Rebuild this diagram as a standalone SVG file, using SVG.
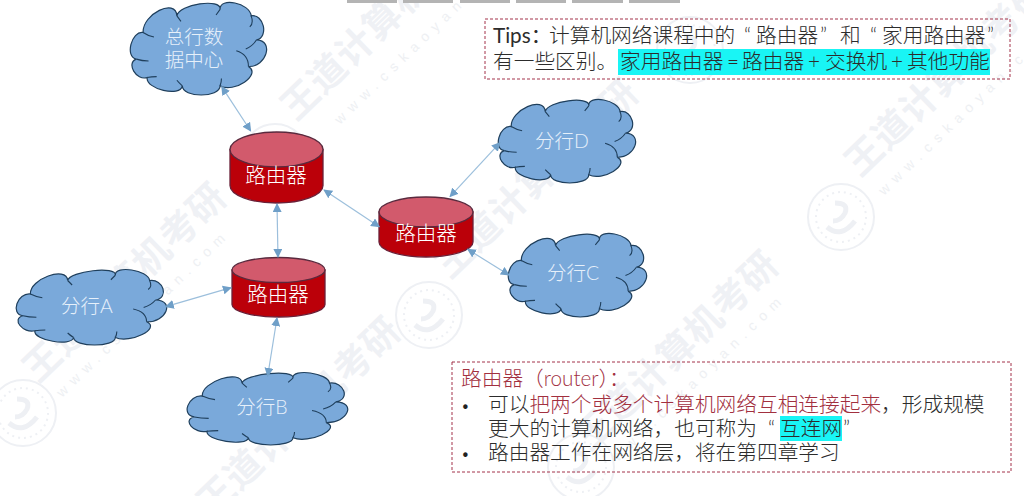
<svg xmlns="http://www.w3.org/2000/svg" width="1024" height="496" viewBox="0 0 1024 496">
<style>
text{font-family:Lato,"Noto Sans CJK SC",sans-serif}
.wm{font-family:"Noto Sans CJK SC",sans-serif;font-weight:700;font-size:37px;fill:#eff1f5;letter-spacing:1px}
.wu{font-family:"Liberation Sans",sans-serif;font-size:14px;fill:#eef0f3;letter-spacing:7px}
.ring{fill:none;stroke:#eef0f4;stroke-width:2}
.swirl{fill:none;stroke:#eef0f4;stroke-width:5}
.cloud{fill:#7aa9da;stroke:#1f3f5c;stroke-width:1.2;vector-effect:non-scaling-stroke}
.hook{fill:none;stroke:#1f3f5c;stroke-width:1.1;vector-effect:non-scaling-stroke}
.cl{fill:#e6f0fa;font-size:19.5px;text-anchor:middle;font-weight:300}
.body{fill:#bb0009;stroke:#6a2038;stroke-width:1.3}
.top{fill:#d25a6c;stroke:#5a2a3e;stroke-width:1.3}
.rt{fill:#fff;font-size:20.5px;text-anchor:middle;font-weight:300}
.conn{stroke:#9cbfdc;stroke-width:1.2;fill:none;marker-start:url(#a);marker-end:url(#a)}
.box{fill:none;stroke:#a3324a;stroke-width:1;stroke-dasharray:3 2}
.t{font-size:20.7px;fill:#2c2c2c;font-weight:300}
.r{fill:#a2303f}
.b{font-size:15px;fill:#222}
.tip{font-weight:400}
</style>
<defs>
<marker id="a" viewBox="0 0 10 10" refX="9" refY="5" markerUnits="userSpaceOnUse" markerWidth="9" markerHeight="9" orient="auto-start-reverse"><path d="M0 0L10 5L0 10z" fill="#6f9fc8"/></marker>
<g id="cloud">
<path class="cloud" d="M9 32C8.300 12 33.300 -6 34 14C35.300 1.300 67.300 -5.700 66 7C65.300 -7 88.300 0 89 14C98.300 11.300 102.300 37.300 93 40C106.300 40.700 100.300 69.700 87 69C97 77.700 76 98.700 66 90C66 103.300 38 103.300 38 90C36.700 102.700 10.700 93.700 12 81C4 85 -4 65 4 61C-4.700 59 .3 30 9 32Z"/>
<path class="hook" d="M9 32Q13 36 17 37M34 14Q36 18 37 20M66 7Q64 11 63 13M89 14Q91 22 88 26M93 40Q90 47 85 50M87 69Q87 56 78 52M66 90Q67 86 67 82M38 90Q35 86 34 84M12 81Q15 80 19 80M4 61Q8 63 13 63"/>
</g>
<g id="seal"><circle class="ring" r="33"/><circle class="ring" r="25" stroke-dasharray="2 4"/><path class="swirl" d="M-14 10Q0 22 14 4M-6 -14Q8 -14 4 -4Q0 4 -8 4"/></g>
</defs>
<rect width="1024" height="496" fill="#fff"/>
<g id="watermark">
<text class="wm" transform="translate(296 122) rotate(-44)">王道计算机考研</text>
<text class="wm" transform="translate(450 280) rotate(-44)">王道计算机考研</text>
<text class="wm" transform="translate(860 178) rotate(-44)">王道计算机考研</text>
<text class="wm" transform="translate(38 384) rotate(-44)">王道计算机考研</text>
<text class="wm" transform="translate(212 518) rotate(-44)">王道计算机考研</text>
<text class="wm" transform="translate(590 452) rotate(-44)">王道计算机考研</text>
<text class="wu" transform="translate(340 125) rotate(-44)">www.cskaoyan.com</text>
<text class="wu" transform="translate(62 398) rotate(-44)">www.cskaoyan.com</text>
<text class="wu" transform="translate(884 196) rotate(-44)">www.cskaoyan.com</text>
<text class="wu" transform="translate(618 462) rotate(-44)">www.cskaoyan.com</text>
<use href="#seal" x="23" y="413"/><use href="#seal" x="275" y="157"/><use href="#seal" x="429" y="315"/><use href="#seal" x="841" y="217"/><use href="#seal" x="581" y="467"/><use href="#seal" x="690" y="50"/>
</g>
<g id="topbars" fill="#b4b4b4">
<rect x="347" y="0" width="50" height="3"/><rect x="403" y="0" width="50" height="3"/><rect x="460" y="0" width="50" height="3"/><rect x="516" y="0" width="50" height="3"/><rect x="572" y="0" width="51" height="3"/><rect x="629" y="0" width="51" height="3"/>
</g>
<g id="cloud-hq"><use href="#cloud" transform="translate(131 3) scale(1.35 .92)"/><text class="cl" x="194" y="44">总行数</text><text class="cl" x="194" y="67">据中心</text></g>
<g id="cloud-d"><use href="#cloud" transform="translate(499 100) scale(1.36 .83)"/><text class="cl" x="562" y="148">分行D</text></g>
<g id="cloud-c"><use href="#cloud" transform="translate(509 234) scale(1.37 .83)"/><text class="cl" x="573" y="280">分行C</text></g>
<g id="cloud-a"><use href="#cloud" transform="translate(17 270) scale(1.49 .75)"/><text class="cl" x="87" y="313">分行A</text></g>
<g id="cloud-b"><use href="#cloud" transform="translate(188 373) scale(1.59 .72)"/><text class="cl" x="262" y="414">分行B</text></g>
<g id="router-1"><path class="body" d="M230 149.500V185.500A46.500 17.500 0 0 0 323 185.500V149.500Z"/><ellipse class="top" cx="276.500" cy="149.500" rx="46.500" ry="17.500"/><text class="rt" x="276" y="183">路由器</text></g>
<g id="router-2"><path class="body" d="M379 212V242A47 15 0 0 0 473 242V212Z"/><ellipse class="top" cx="426" cy="212" rx="47" ry="15"/><text class="rt" x="426" y="241">路由器</text></g>
<g id="router-3"><path class="body" d="M232 270V304.500A46.500 12.500 0 0 0 325 304.500V270Z"/><ellipse class="top" cx="278.500" cy="270" rx="46.500" ry="12.500"/><text class="rt" x="278" y="302">路由器</text></g>
<g id="connectors">
<line class="conn" x1="221.700" y1="86.700" x2="250.700" y2="131"/>
<line class="conn" x1="324" y1="190" x2="379.300" y2="226.700"/>
<line class="conn" x1="277" y1="204" x2="278" y2="257"/>
<line class="conn" x1="231" y1="287.700" x2="165.700" y2="306.700"/>
<line class="conn" x1="277" y1="318" x2="267.700" y2="376"/>
<line class="conn" x1="450" y1="196.700" x2="500" y2="142.700"/>
<line class="conn" x1="467.700" y1="249.300" x2="509" y2="275"/>
</g>
<g id="tips">
<rect x="618" y="49" width="372" height="26" fill="#19f5f5"/>
<rect class="box" x="485" y="19" width="525" height="60"/>
<text class="t" x="493" y="43"><tspan class="tip">Tips：</tspan><tspan x="549">计算机网络课程中的</tspan><tspan x="744">“</tspan><tspan x="756">路由器</tspan><tspan x="820">”</tspan><tspan x="840">和</tspan><tspan x="870">“</tspan><tspan x="882">家用路由器</tspan><tspan x="987">”</tspan></text>
<text class="t" x="493" y="69">有一些区别。<tspan x="620">家用路由器</tspan><tspan x="727"> </tspan><tspan x="727">=</tspan><tspan x="742">路由器</tspan><tspan x="808">+</tspan><tspan x="825">交换机</tspan><tspan x="891">+</tspan><tspan x="907">其他功能</tspan></text>
</g>
<g id="router-note">
<rect x="780" y="416" width="62" height="25" fill="#19f5f5"/>
<rect class="box" x="452" y="362" width="559" height="110"/>
<text class="t r" x="461" y="386">路由器（router）：</text>
<text class="t b" x="461" y="411">•</text>
<text class="t" x="488" y="412">可以<tspan class="r">把两个或多个计算机网络互相连接起来</tspan>，形成规模</text>
<text class="t" x="488" y="436">更大的计算机网络，也可称为<tspan x="768">“</tspan><tspan x="780">互连网</tspan><tspan x="843">”</tspan></text>
<text class="t b" x="461" y="459">•</text>
<text class="t" x="488" y="460">路由器工作在网络层，将在第四章学习</text>
</g>
</svg>
